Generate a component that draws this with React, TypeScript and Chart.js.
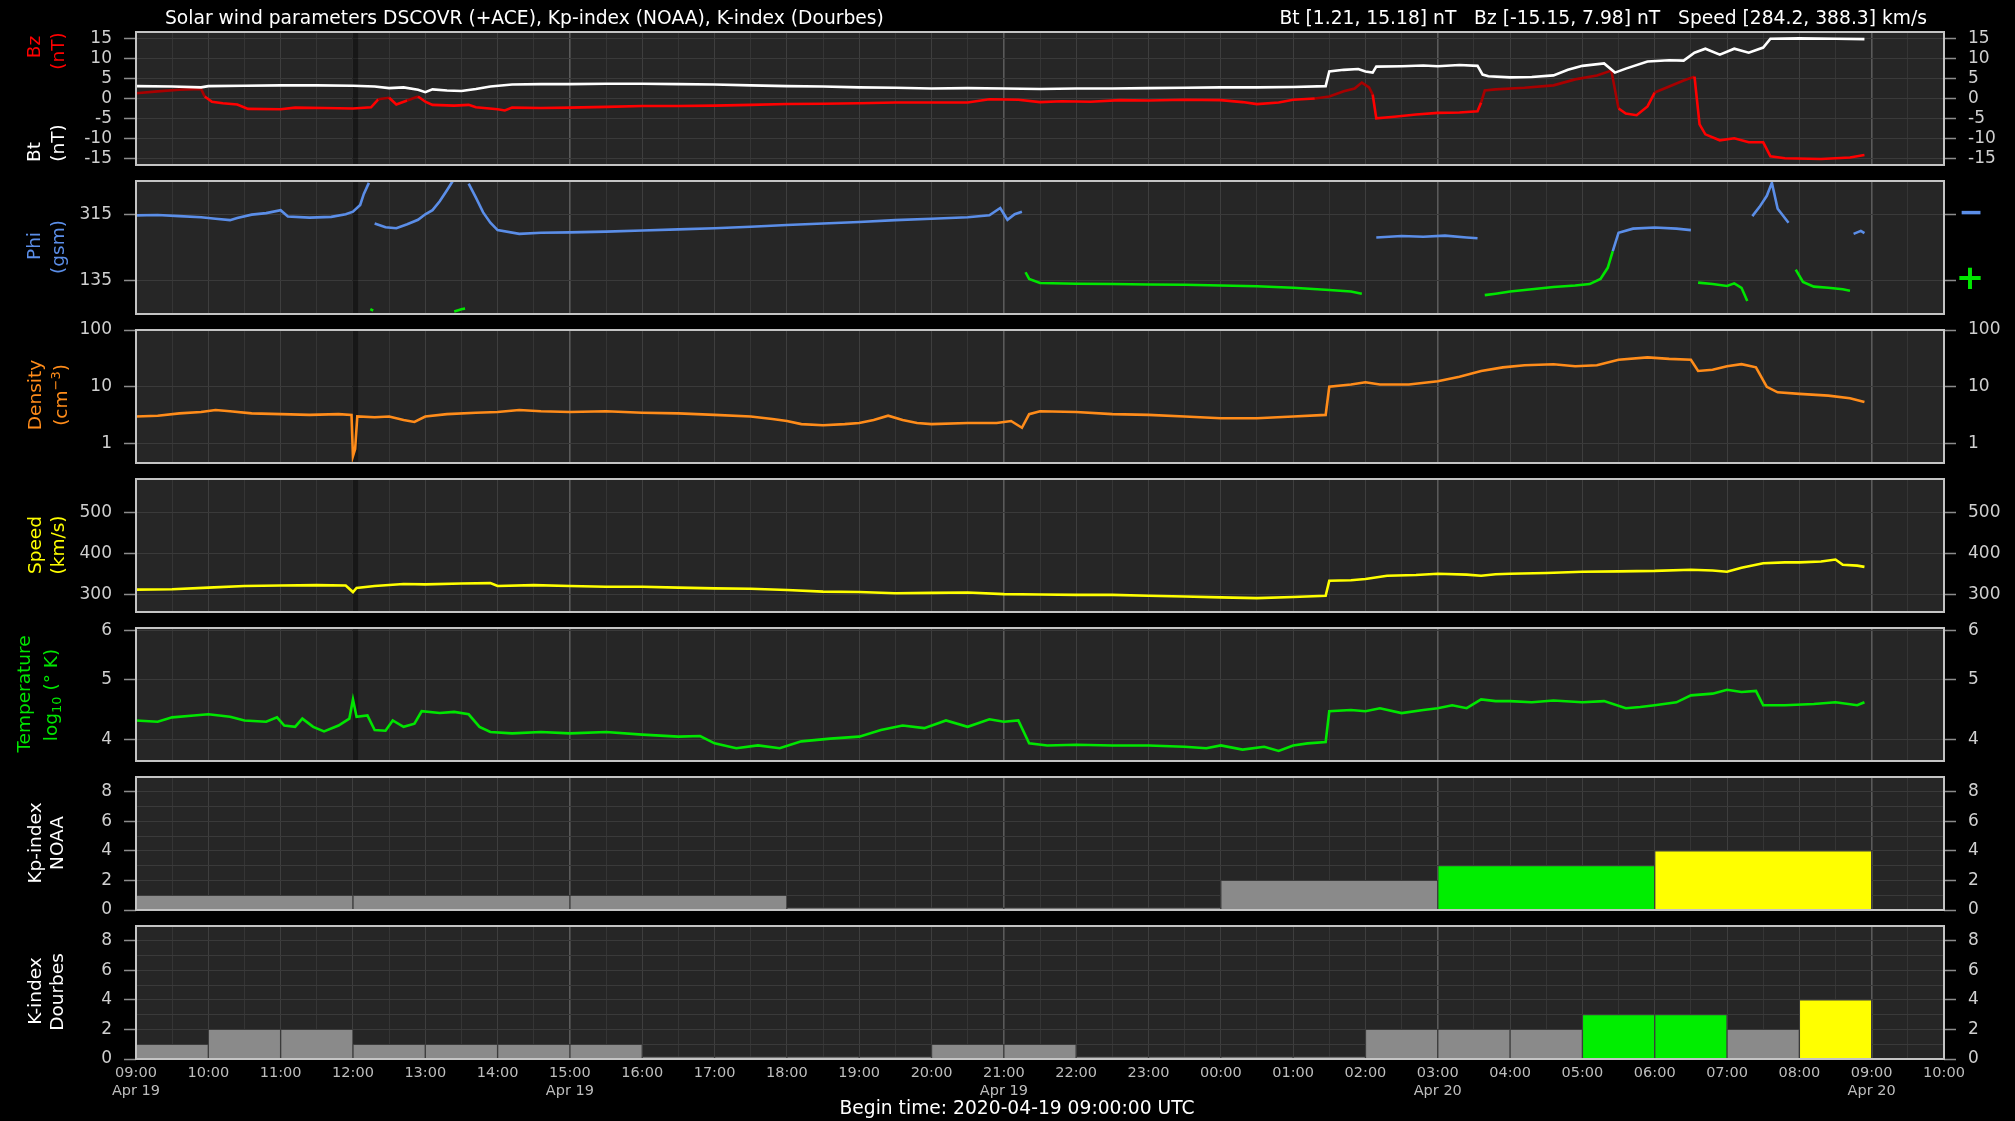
import React, { useEffect, useRef } from 'react';
import { Chart, registerables } from 'chart.js';

Chart.register(...registerables);

// ---------------- data (time in hours since 2020-04-19 09:00 UTC) ----------------
const TIME_LABELS = ['09:00', '10:00', '11:00', '12:00', '13:00', '14:00', '15:00', '16:00', '17:00', '18:00', '19:00', '20:00', '21:00',
  '22:00', '23:00', '00:00', '01:00', '02:00', '03:00', '04:00', '05:00', '06:00', '07:00', '08:00', '09:00', '10:00'];
const DATE_LABELS: Record<number, string> = { 0: 'Apr 19', 6: 'Apr 19', 12: 'Apr 19', 18: 'Apr 20', 24: 'Apr 20' };
const DATA_GAP_MARKS = [3.03];

type P = [number, number | null];

const BT: P[] = [[0, 3.1], [0.5, 3.0], [0.9, 2.8], [1.0, 3.1], [1.5, 3.2], [2.0, 3.3], [2.5, 3.3], [3.0, 3.2], [3.3, 3.0], [3.5, 2.6],
  [3.7, 2.8], [3.9, 2.2], [4.0, 1.6], [4.1, 2.3], [4.3, 2.0], [4.5, 1.9], [4.7, 2.4], [4.9, 3.0], [5.2, 3.5], [5.6, 3.6], [6.0, 3.6],
  [6.5, 3.7], [7.0, 3.7], [7.5, 3.6], [8.0, 3.5], [8.5, 3.3], [9.0, 3.1], [9.5, 3.0], [10.0, 2.8], [10.5, 2.7], [11.0, 2.5], [11.5, 2.6],
  [12.0, 2.5], [12.5, 2.4], [13.0, 2.5], [13.5, 2.5], [14.0, 2.6], [14.5, 2.7], [15.0, 2.8], [15.5, 2.8], [16.0, 2.9], [16.45, 3.1],
  [16.5, 6.8], [16.7, 7.2], [16.9, 7.4], [17.0, 6.8], [17.1, 6.5], [17.15, 8.0], [17.5, 8.1], [17.8, 8.3], [18.0, 8.1], [18.3, 8.4],
  [18.55, 8.2], [18.62, 6.0], [18.7, 5.6], [19.0, 5.3], [19.3, 5.4], [19.6, 5.8], [19.8, 7.2], [20.0, 8.2], [20.3, 8.8], [20.45, 6.5],
  [20.6, 7.5], [20.9, 9.3], [21.2, 9.6], [21.4, 9.5], [21.55, 11.5], [21.7, 12.5], [21.9, 11.0], [22.1, 12.5], [22.3, 11.5], [22.5, 12.8],
  [22.6, 15.0], [23.0, 15.1], [23.5, 15.0], [23.9, 14.9]];

const BZ: P[] = [[0, 1.3], [0.3, 1.8], [0.6, 2.2], [0.9, 2.4], [0.95, 0.5], [1.05, -0.8], [1.2, -1.2], [1.4, -1.5], [1.55, -2.6], [2.0, -2.7],
  [2.2, -2.3], [2.6, -2.4], [3.0, -2.5], [3.25, -2.2], [3.35, -0.2], [3.5, 0.2], [3.6, -1.5], [3.75, -0.5], [3.9, 0.5], [4.0, -0.8],
  [4.1, -1.6], [4.4, -1.8], [4.6, -1.6], [4.7, -2.2], [5.0, -2.7], [5.1, -3.0], [5.2, -2.3], [5.6, -2.4], [6.0, -2.3], [6.5, -2.1],
  [7.0, -1.9], [7.5, -1.9], [8.0, -1.8], [8.5, -1.6], [9.0, -1.4], [9.5, -1.3], [10.0, -1.2], [10.5, -1.0], [11.0, -1.0], [11.5, -1.0],
  [11.8, -0.2], [12.2, -0.3], [12.5, -0.9], [12.8, -0.7], [13.2, -0.8], [13.6, -0.4], [14.0, -0.5], [14.5, -0.3], [15.0, -0.4],
  [15.3, -0.9], [15.5, -1.4], [15.8, -1.0], [16.0, -0.3], [16.3, 0.0], [16.5, 0.5], [16.7, 1.8], [16.85, 2.5], [16.95, 4.0], [17.05, 2.8],
  [17.1, 1.0], [17.15, -5.0], [17.4, -4.6], [17.7, -4.0], [18.0, -3.6], [18.3, -3.5], [18.55, -3.2], [18.6, -1.0], [18.65, 2.0],
  [18.8, 2.3], [19.2, 2.7], [19.6, 3.3], [19.9, 4.8], [20.2, 5.8], [20.4, 7.0], [20.5, -2.5], [20.6, -3.8], [20.75, -4.2], [20.9, -2.0],
  [21.0, 1.5], [21.2, 3.0], [21.4, 4.5], [21.55, 5.5], [21.62, -6.5], [21.7, -9.0], [21.9, -10.5], [22.1, -10.0], [22.3, -11.0],
  [22.5, -11.0], [22.6, -14.5], [22.8, -15.0], [23.3, -15.2], [23.7, -14.8], [23.9, -14.2]];

const PHI: P[] = [[0, 312], [0.3, 313], [0.6, 310], [0.9, 307], [1.1, 303], [1.3, 299], [1.4, 305], [1.6, 314], [1.8, 318], [2.0, 326],
  [2.1, 309], [2.4, 306], [2.7, 308], [2.9, 315], [3.0, 322], [3.1, 340], [3.15, 370], [3.22, 400], [3.23, null],
  [3.24, 58], [3.28, 54], [3.29, null],
  [3.3, 290], [3.45, 280], [3.6, 277], [3.75, 288], [3.9, 300], [4.0, 315], [4.1, 326], [4.2, 350], [4.3, 380], [4.38, 405], [4.39, null],
  [4.4, 52], [4.5, 58], [4.55, 60], [4.56, null],
  [4.6, 398], [4.7, 360], [4.8, 320], [4.9, 292], [5.0, 272], [5.3, 262], [5.6, 265], [6.0, 266], [6.5, 268], [7.0, 271], [7.5, 274],
  [8.0, 277], [8.5, 281], [9.0, 286], [9.5, 290], [10.0, 294], [10.5, 299], [11.0, 303], [11.5, 307], [11.8, 312], [11.95, 332],
  [12.05, 300], [12.15, 315], [12.25, 322], [12.28, null],
  [12.3, 158], [12.35, 140], [12.5, 129], [13.0, 127], [13.5, 126], [14.0, 125], [14.5, 124], [15.0, 122], [15.5, 120], [16.0, 116],
  [16.5, 110], [16.8, 106], [16.95, 100], [17.0, null],
  [17.15, 252], [17.5, 256], [17.8, 254], [18.1, 257], [18.4, 252], [18.55, 250], [18.6, null],
  [18.65, 96], [18.8, 100], [19.0, 106], [19.3, 112], [19.6, 118], [19.9, 122], [20.1, 126], [20.25, 140], [20.35, 170], [20.42, 215],
  [20.5, 265], [20.7, 276], [21.0, 279], [21.3, 276], [21.5, 272], [21.55, null],
  [21.6, 130], [21.8, 126], [22.0, 121], [22.1, 128], [22.2, 116], [22.28, 80], [22.3, null],
  [22.35, 310], [22.45, 335], [22.55, 365], [22.62, 400], [22.7, 330], [22.85, 292], [22.9, null],
  [22.95, 165], [23.05, 132], [23.2, 119], [23.4, 116], [23.6, 112], [23.7, 108], [23.72, null],
  [23.75, 262], [23.85, 270], [23.9, 264]];

const DENSITY: P[] = [[0, 3.0], [0.3, 3.1], [0.6, 3.4], [0.9, 3.6], [1.1, 3.9], [1.3, 3.7], [1.6, 3.4], [2.0, 3.3], [2.4, 3.2], [2.8, 3.3],
  [2.98, 3.2], [3.0, 0.6], [3.03, 0.8], [3.06, 3.0], [3.3, 2.9], [3.5, 3.0], [3.7, 2.6], [3.85, 2.4], [4.0, 3.0], [4.3, 3.3], [4.7, 3.5],
  [5.0, 3.6], [5.3, 3.9], [5.6, 3.7], [6.0, 3.6], [6.5, 3.7], [7.0, 3.5], [7.5, 3.4], [8.0, 3.2], [8.5, 3.0], [8.8, 2.7], [9.0, 2.5],
  [9.2, 2.2], [9.5, 2.1], [9.8, 2.2], [10.0, 2.3], [10.2, 2.6], [10.4, 3.1], [10.6, 2.6], [10.8, 2.3], [11.0, 2.2], [11.5, 2.3],
  [11.9, 2.3], [12.1, 2.5], [12.25, 1.9], [12.35, 3.3], [12.5, 3.7], [13.0, 3.6], [13.5, 3.3], [14.0, 3.2], [14.5, 3.0], [15.0, 2.8],
  [15.5, 2.8], [16.0, 3.0], [16.45, 3.2], [16.5, 10], [16.8, 11], [17.0, 12], [17.2, 11], [17.6, 11], [18.0, 12.5], [18.3, 15],
  [18.6, 19], [18.9, 22], [19.2, 24], [19.6, 25], [19.9, 23], [20.2, 24], [20.5, 30], [20.9, 33], [21.2, 31], [21.5, 30], [21.6, 19],
  [21.8, 20], [22.0, 23], [22.2, 25], [22.4, 22], [22.55, 10], [22.7, 8.0], [23.0, 7.5], [23.4, 7.0], [23.7, 6.3], [23.9, 5.4]];

const SPEED: P[] = [[0, 311], [0.5, 312], [1.0, 316], [1.5, 320], [2.0, 321], [2.5, 322], [2.9, 321], [3.0, 305], [3.05, 315], [3.3, 320],
  [3.7, 325], [4.0, 324], [4.5, 326], [4.9, 327], [5.0, 320], [5.5, 322], [6.0, 320], [6.5, 318], [7.0, 318], [7.5, 316], [8.0, 314],
  [8.5, 313], [9.0, 310], [9.5, 306], [10.0, 305], [10.5, 302], [11.0, 303], [11.5, 304], [12.0, 300], [12.5, 299], [13.0, 298],
  [13.5, 298], [14.0, 296], [14.5, 294], [15.0, 292], [15.5, 290], [16.0, 293], [16.45, 296], [16.5, 333], [16.8, 334], [17.0, 337],
  [17.3, 345], [17.7, 347], [18.0, 350], [18.4, 348], [18.6, 345], [18.8, 349], [19.0, 350], [19.5, 352], [20.0, 355], [20.5, 356],
  [21.0, 357], [21.5, 360], [21.8, 358], [22.0, 355], [22.2, 365], [22.5, 376], [22.8, 378], [23.0, 378], [23.3, 380], [23.5, 385],
  [23.6, 372], [23.8, 370], [23.9, 367]];

const TEMPERATURE: P[] = [[0, 4.3], [0.3, 4.28], [0.5, 4.35], [0.8, 4.38], [1.0, 4.4], [1.3, 4.36], [1.5, 4.3], [1.8, 4.28], [1.95, 4.35],
  [2.05, 4.22], [2.2, 4.2], [2.3, 4.33], [2.45, 4.2], [2.6, 4.13], [2.8, 4.22], [2.95, 4.33], [3.0, 4.65], [3.05, 4.36], [3.2, 4.38],
  [3.3, 4.15], [3.45, 4.14], [3.55, 4.3], [3.7, 4.2], [3.85, 4.25], [3.95, 4.45], [4.2, 4.42], [4.4, 4.44], [4.6, 4.4], [4.75, 4.2],
  [4.9, 4.12], [5.2, 4.1], [5.6, 4.12], [6.0, 4.1], [6.5, 4.12], [7.0, 4.08], [7.5, 4.05], [7.8, 4.06], [8.0, 3.95], [8.3, 3.88],
  [8.6, 3.92], [8.9, 3.88], [9.2, 3.98], [9.6, 4.02], [10.0, 4.05], [10.3, 4.15], [10.6, 4.22], [10.9, 4.18], [11.2, 4.3], [11.5, 4.2],
  [11.8, 4.32], [12.0, 4.28], [12.2, 4.3], [12.35, 3.95], [12.6, 3.92], [13.0, 3.93], [13.5, 3.92], [14.0, 3.92], [14.5, 3.9],
  [14.8, 3.88], [15.0, 3.92], [15.3, 3.86], [15.6, 3.9], [15.8, 3.84], [16.0, 3.92], [16.2, 3.95], [16.45, 3.97], [16.5, 4.45],
  [16.8, 4.47], [17.0, 4.45], [17.2, 4.5], [17.5, 4.42], [17.8, 4.47], [18.0, 4.5], [18.2, 4.55], [18.4, 4.5], [18.6, 4.65], [18.8, 4.62],
  [19.0, 4.62], [19.3, 4.6], [19.6, 4.63], [20.0, 4.6], [20.3, 4.62], [20.6, 4.5], [20.8, 4.52], [21.0, 4.55], [21.3, 4.6], [21.5, 4.72],
  [21.8, 4.75], [22.0, 4.82], [22.2, 4.78], [22.4, 4.8], [22.5, 4.55], [22.8, 4.55], [23.2, 4.57], [23.5, 4.6], [23.8, 4.55], [23.9, 4.6]];

const KP_HOURS = [1.5, 4.5, 7.5, 10.5, 13.5, 16.5, 19.5, 22.5];
const KP_VALUES = [1, 1, 1, 0, 0, 2, 3, 4];
const K_HOURS = [0.5, 1.5, 2.5, 3.5, 4.5, 5.5, 6.5, 7.5, 8.5, 9.5, 10.5, 11.5, 12.5, 13.5, 14.5, 15.5, 16.5, 17.5, 18.5, 19.5, 20.5,
  21.5, 22.5, 23.5];
const K_VALUES = [1, 2, 2, 1, 1, 1, 1, 0, 0, 0, 0, 1, 1, 0, 0, 0, 0, 2, 2, 2, 3, 3, 2, 4];

const BZ_TICKS = [-15, -10, -5, 0, 5, 10, 15];
const PHI_TICKS = [135, 315];
const DENSITY_TICKS = [1, 10, 100];
const SPEED_TICKS = [300, 400, 500];
const TEMP_TICKS = [4, 5, 6];
const KP_TICKS = [0, 1, 2, 3, 4, 5, 6, 7, 8, 9];

// ---------------- layout & style ----------------
const W = 2015;
const H = 1121;
const PLOT_LEFT = 136;
const PLOT_RIGHT = 1944;
const PANEL_TOPS = [32, 181, 330, 479, 628, 777, 926];
const PANEL_H = 133;
const PAD = 12;
const FONT = 'DejaVu Sans';
const TICK_TEXT = '#cfcfcf';
const GRID = '#3a3a3a';
const RED = '#ff0000';
const DARK_RED = '#a80000';
const BLUE = '#5b8ee8';
const GREEN = '#00e600';
const ORANGE = '#ff8c1a';
const YELLOW = '#ffff00';

Chart.defaults.font.family = FONT;

const pts = (a: P[]) => a.map(([x, y]) => ({ x, y }));
const xGrid = Array.from({ length: 51 }, (_, i) => i / 2);

const panelDecor = {
  id: 'panelDecor',
  beforeDraw(chart: any) {
    const { ctx, chartArea: a } = chart;
    ctx.save();
    ctx.fillStyle = '#262626';
    ctx.fillRect(a.left, a.top, a.right - a.left, a.bottom - a.top);
    ctx.restore();
  },
  beforeDatasetsDraw(chart: any, _args: any, opts: any) {
    const marks: number[] = (opts && opts.marks) || [];
    const { ctx, chartArea: a } = chart;
    const xs = chart.scales.x;
    ctx.save();
    ctx.fillStyle = 'rgba(0,0,0,0.38)';
    marks.forEach((m) => {
      const px = xs.getPixelForValue(m);
      ctx.fillRect(px - 3, a.top, 6, a.bottom - a.top);
    });
    ctx.restore();
  },
  afterDraw(chart: any) {
    const { ctx, chartArea: a } = chart;
    ctx.save();
    ctx.strokeStyle = '#c4c4c4';
    ctx.lineWidth = 2;
    ctx.strokeRect(a.left, a.top, a.right - a.left, a.bottom - a.top);
    ctx.restore();
  },
};

function xScale(showLabels: boolean, axisH: number) {
  return {
    type: 'linear', min: 0, max: 25, offset: false,
    afterBuildTicks: (s: any) => { s.ticks = xGrid.map((v) => ({ value: v })); },
    ticks: {
      display: showLabels, autoSkip: false, maxRotation: 0, minRotation: 0, padding: 6, color: '#bdbdbd',
      font: { family: FONT, size: 14.5 },
      callback: (v: number) => (Number.isInteger(v) ? (DATE_LABELS[v] ? [TIME_LABELS[v], DATE_LABELS[v]] : TIME_LABELS[v]) : ''),
    },
    grid: {
      offset: false,
      drawTicks: false,
      color: (c: any) => {
        const v = c.tick ? c.tick.value : 0;
        if (v % 6 === 0) return '#5a5a5a';
        if (Number.isInteger(v)) return '#3e3e3e';
        return '#353535';
      },
      lineWidth: (c: any) => (c.tick && c.tick.value % 6 === 0 ? 1.6 : 1),
    },
    border: { display: false },
    afterFit: (s: any) => {
      s.height = showLabels ? axisH : 0;
      s.paddingLeft = 0; s.paddingRight = 0;
    },
  };
}

function yScales(type: string, min: number, max: number, tickVals: number[], label: (v: number) => string, rightLabels = true) {
  const make = (pos: 'left' | 'right') => ({
    type, position: pos, min, max,
    afterBuildTicks: (s: any) => { s.ticks = tickVals.map((v) => ({ value: v })); },
    ticks: {
      display: pos === 'left' || rightLabels, autoSkip: false, color: TICK_TEXT, padding: 12,
      font: { family: FONT, size: 17 }, callback: (v: number) => label(v),
    },
    grid: {
      drawOnChartArea: pos === 'left', color: GRID, lineWidth: 1, tickLength: 12, tickWidth: 1.5,
      tickColor: (c: any) => (c.tick && label(c.tick.value) !== '' ? '#8c8c8c' : 'rgba(0,0,0,0)'),
    },
    border: { display: false },
    afterFit: (s: any) => {
      s.width = pos === 'left' ? PLOT_LEFT : W - PLOT_RIGHT;
      s.paddingTop = 0; s.paddingBottom = 0;
    },
  });
  return { y: make('left'), y2: make('right') };
}

const lineBase = { type: 'line', borderWidth: 2.6, pointRadius: 0, tension: 0, spanGaps: false, fill: false };

function options(i: number, ys: any, extra: any = {}) {
  const last = i === PANEL_TOPS.length - 1;
  const canvasH = last ? H - (PANEL_TOPS[i] - PAD) : PANEL_H + 2 * PAD;
  const axisH = canvasH - PAD - PANEL_H;
  return {
    responsive: false, animation: false, events: [],
    layout: { padding: { top: PAD, bottom: last ? 0 : PAD, left: 0, right: 0 } },
    plugins: { legend: { display: false }, tooltip: { enabled: false }, panelDecor: { marks: i < 5 ? DATA_GAP_MARKS : [] } },
    scales: { x: xScale(last, axisH), ...ys, ...extra },
  };
}

const str = (v: number) => String(v);

function barColor(v: number) {
  if (v >= 5) return '#ff0000';
  if (v >= 4) return '#ffff00';
  if (v >= 3) return '#00ee00';
  return '#8a8a8a';
}

function barScale(centers: number[]) {
  return {
    xb: {
      type: 'linear', min: 0, max: 25, display: true, offset: false,
      afterBuildTicks: (s: any) => { s.ticks = centers.map((v) => ({ value: v })); },
      ticks: { display: false }, grid: { display: false, drawTicks: false, offset: false }, border: { display: false },
      afterFit: (s: any) => { s.height = 0; s.paddingLeft = 0; s.paddingRight = 0; },
    },
  };
}

function barDataset(hours: number[], values: number[]) {
  return {
    type: 'bar', xAxisID: 'xb',
    data: hours.map((h, k) => ({ x: h, y: values[k] })),
    backgroundColor: values.map(barColor), borderColor: '#3c3c3c', borderWidth: 1,
    barPercentage: 1, categoryPercentage: 1, minBarLength: 2.5, grouped: false,
  };
}

const kpLabel = (v: number) => (v % 2 === 0 && v <= 8 ? String(v) : '');

const CONFIGS: (() => any)[] = [
  () => ({
    type: 'line',
    data: {
      datasets: [
        { ...lineBase, label: 'Bt', data: pts(BT), borderColor: '#ffffff' },
        {
          ...lineBase, label: 'Bz', data: pts(BZ), borderColor: RED,
          segment: { borderColor: (c: any) => ((c.p0.parsed.y + c.p1.parsed.y) / 2 >= 0 ? DARK_RED : RED) },
        },
      ],
    },
    options: options(0, yScales('linear', -16.7, 16.7, BZ_TICKS, str)),
    plugins: [panelDecor],
  }),
  () => ({
    type: 'line',
    data: {
      datasets: [{
        ...lineBase, label: 'Phi', data: pts(PHI), borderColor: BLUE,
        segment: { borderColor: (c: any) => ((c.p0.parsed.y + c.p1.parsed.y) / 2 >= 225 ? BLUE : GREEN) },
      }],
    },
    options: options(1, yScales('linear', 45, 405, PHI_TICKS, str, false)),
    plugins: [panelDecor],
  }),
  () => ({
    type: 'line',
    data: { datasets: [{ ...lineBase, label: 'Density', data: pts(DENSITY), borderColor: ORANGE }] },
    options: options(2, yScales('logarithmic', 0.455, 100, DENSITY_TICKS, str)),
    plugins: [panelDecor],
  }),
  () => ({
    type: 'line',
    data: { datasets: [{ ...lineBase, label: 'Speed', data: pts(SPEED), borderColor: YELLOW }] },
    options: options(3, yScales('linear', 256, 583, SPEED_TICKS, str)),
    plugins: [panelDecor],
  }),
  () => ({
    type: 'line',
    data: { datasets: [{ ...lineBase, label: 'Temperature', data: pts(TEMPERATURE), borderColor: GREEN }] },
    options: options(4, yScales('logarithmic', 3.70, 6.06, TEMP_TICKS, str)),
    plugins: [panelDecor],
  }),
  () => ({
    type: 'bar',
    data: { datasets: [barDataset(KP_HOURS, KP_VALUES)] },
    options: options(5, yScales('linear', 0, 9, KP_TICKS, kpLabel), barScale(KP_HOURS)),
    plugins: [panelDecor],
  }),
  () => ({
    type: 'bar',
    data: { datasets: [barDataset(K_HOURS, K_VALUES)] },
    options: options(6, yScales('linear', 0, 9, KP_TICKS, kpLabel), barScale(K_HOURS)),
    plugins: [panelDecor],
  }),
];

function Panel({ index }: { index: number }) {
  const ref = useRef<HTMLCanvasElement>(null);
  const last = index === PANEL_TOPS.length - 1;
  const top = PANEL_TOPS[index] - PAD;
  const height = last ? H - top : PANEL_H + 2 * PAD;
  useEffect(() => {
    const chart = new Chart(ref.current as HTMLCanvasElement, CONFIGS[index]());
    return () => chart.destroy();
  }, [index]);
  return (
    <canvas ref={ref} width={W} height={height}
      style={{ position: 'absolute', left: 0, top, width: W, height, display: 'block' }} />
  );
}

type TitleLine = { content: React.ReactNode; color: string; x: number; y: number };
const AXIS_TITLES: TitleLine[] = [
  { content: 'Bz', color: RED, x: 34, y: 47 },
  { content: '(nT)', color: RED, x: 58, y: 51 },
  { content: 'Bt', color: '#ffffff', x: 34, y: 152 },
  { content: '(nT)', color: '#ffffff', x: 58, y: 143 },
  { content: 'Phi', color: BLUE, x: 34, y: 246 },
  { content: '(gsm)', color: BLUE, x: 58, y: 247 },
  { content: 'Density', color: ORANGE, x: 35, y: 395 },
  { content: <>(cm<sup style={{ fontSize: '70%' }}>−3</sup>)</>, color: ORANGE, x: 60, y: 395 },
  { content: 'Speed', color: YELLOW, x: 35, y: 545 },
  { content: '(km/s)', color: YELLOW, x: 58, y: 545 },
  { content: 'Temperature', color: GREEN, x: 24, y: 694 },
  { content: <>log<sub style={{ fontSize: '70%' }}>10</sub> (° K)</>, color: GREEN, x: 53, y: 695 },
  { content: 'Kp-index', color: '#ffffff', x: 35, y: 843 },
  { content: 'NOAA', color: '#ffffff', x: 57, y: 843 },
  { content: 'K-index', color: '#ffffff', x: 35, y: 991 },
  { content: 'Dourbes', color: '#ffffff', x: 57, y: 992 },
];

export default function App() {
  return (
    <div style={{ position: 'absolute', left: 0, top: 0, width: W, height: H, background: '#000', overflow: 'hidden', fontFamily: FONT }}>
      {PANEL_TOPS.map((_, i) => <Panel key={i} index={i} />)}
      <div style={{ position: 'absolute', left: 165, top: 7, fontSize: 18.7, lineHeight: '22px', color: '#fff', whiteSpace: 'pre' }}>
        Solar wind parameters DSCOVR (+ACE), Kp-index (NOAA), K-index (Dourbes)
      </div>
      <div style={{ position: 'absolute', right: W - 1927, top: 7, fontSize: 18.7, lineHeight: '22px', color: '#fff', whiteSpace: 'pre' }}>
        {'Bt [1.21, 15.18] nT   Bz [-15.15, 7.98] nT   Speed [284.2, 388.3] km/s'}
      </div>
      {AXIS_TITLES.map((t, k) => (
        <div key={k} style={{
          position: 'absolute', left: t.x, top: t.y, transform: 'translate(-50%, -50%) rotate(-90deg)',
          whiteSpace: 'nowrap', fontSize: 18.5, lineHeight: 1, color: t.color,
        }}>{t.content}</div>
      ))}
      <div style={{ position: 'absolute', left: 1971, top: 212, transform: 'translate(-50%, -50%)', color: BLUE, fontSize: 30, fontWeight: 'bold', lineHeight: 1 }}>−</div>
      <div style={{ position: 'absolute', left: 1970, top: 277, transform: 'translate(-50%, -50%)', color: GREEN, fontSize: 34, fontWeight: 'bold', lineHeight: 1 }}>+</div>
      <div style={{ position: 'absolute', left: 1017, top: 1108, transform: 'translate(-50%, -50%)', color: '#fff', fontSize: 18.7, whiteSpace: 'nowrap', lineHeight: 1 }}>
        Begin time: 2020-04-19 09:00:00 UTC
      </div>
    </div>
  );
}
